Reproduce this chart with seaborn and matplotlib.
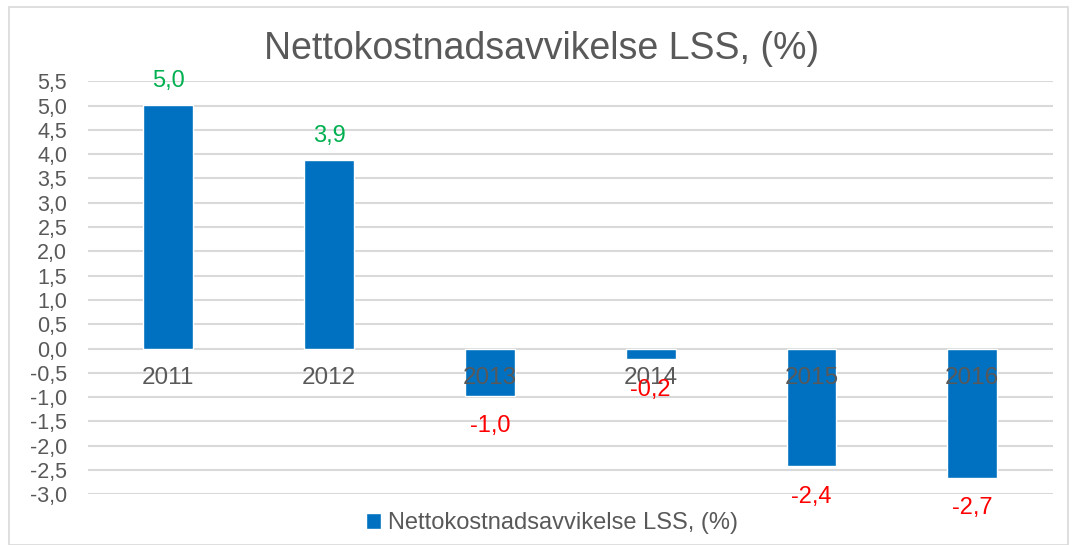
import pandas as pd
import matplotlib
matplotlib.use("Agg")
import matplotlib.pyplot as plt
import seaborn as sns
from matplotlib.patches import Rectangle

# Chart data
years = ["2011", "2012", "2013", "2014", "2015", "2016"]
values = [5.02, 3.88, -0.97, -0.22, -2.42, -2.66]
y_ticks = [-3.0, -2.5, -2.0, -1.5, -1.0, -0.5, 0.0, 0.5, 1.0, 1.5, 2.0, 2.5, 3.0, 3.5, 4.0, 4.5, 5.0, 5.5]
series_name = "Nettokostnadsavvikelse LSS, (%)"

df = pd.DataFrame({"Year": years, "Value": values})

sns.set_style("white")
plt.rcParams["font.family"] = ["Liberation Sans", "DejaVu Sans"]

grey_text = "#595959"
bar_color = "#0070C0"

fig = plt.figure(figsize=(10.73, 5.45), dpi=100)
ax = fig.add_axes([0.082, 0.093, 0.899, 0.758])

sns.barplot(data=df, x="Year", y="Value", color=bar_color, width=0.31,
            saturation=1, ax=ax, zorder=3, label=series_name)

ax.set_ylim(-3.0, 5.5)
ax.set_xlim(-0.5, len(years) - 0.5)
ax.set_yticks(y_ticks)
ax.set_yticklabels([f"{t:.1f}".replace(".", ",") for t in y_ticks],
                   fontsize=15.5, color=grey_text)
ax.tick_params(axis="y", length=0, pad=15)
ax.set_xticks([])
ax.set_xlabel("")
ax.set_ylabel("")
for t in y_ticks:
    ax.axhline(t, color="#D9D9D9", linewidth=1.5, zorder=1)
for s in ax.spines.values():
    s.set_visible(False)

# category labels sitting at the zero line
for i, yr in enumerate(years):
    ax.annotate(yr, (i, 0), xytext=(0, -13), textcoords="offset points",
                ha="center", va="top", fontsize=17.5, color=grey_text, zorder=4)

# value labels
for i, v in enumerate(values):
    txt = f"{v:.1f}".replace(".", ",")
    if v >= 0:
        ax.annotate(txt, (i, v), xytext=(0, 9), textcoords="offset points",
                    ha="center", va="bottom", fontsize=17, color="#00B050", zorder=5)
    else:
        ax.annotate(txt, (i, v), xytext=(0, -14), textcoords="offset points",
                    ha="center", va="top", fontsize=17, color="#FF0000", zorder=5)

fig.text(0.505, 0.91, series_name, ha="center", va="center",
         fontsize=27, color=grey_text)

handles, labels = ax.get_legend_handles_labels()
if ax.get_legend() is not None:
    ax.get_legend().remove()
fig.legend(handles[:1], [series_name], loc="center",
           bbox_to_anchor=(552 / 1073, 1 - 523 / 545), frameon=False,
           fontsize=17, labelcolor=grey_text, handlelength=0.65,
           handleheight=0.65, handletextpad=0.3)

fig.patches.append(Rectangle((9 / 1073, 0), 1 - 14 / 1073, 1 - 7 / 545,
                             transform=fig.transFigure, fill=False,
                             edgecolor="#D9D9D9", linewidth=1.2))

fig.savefig("out.png", dpi=100)
